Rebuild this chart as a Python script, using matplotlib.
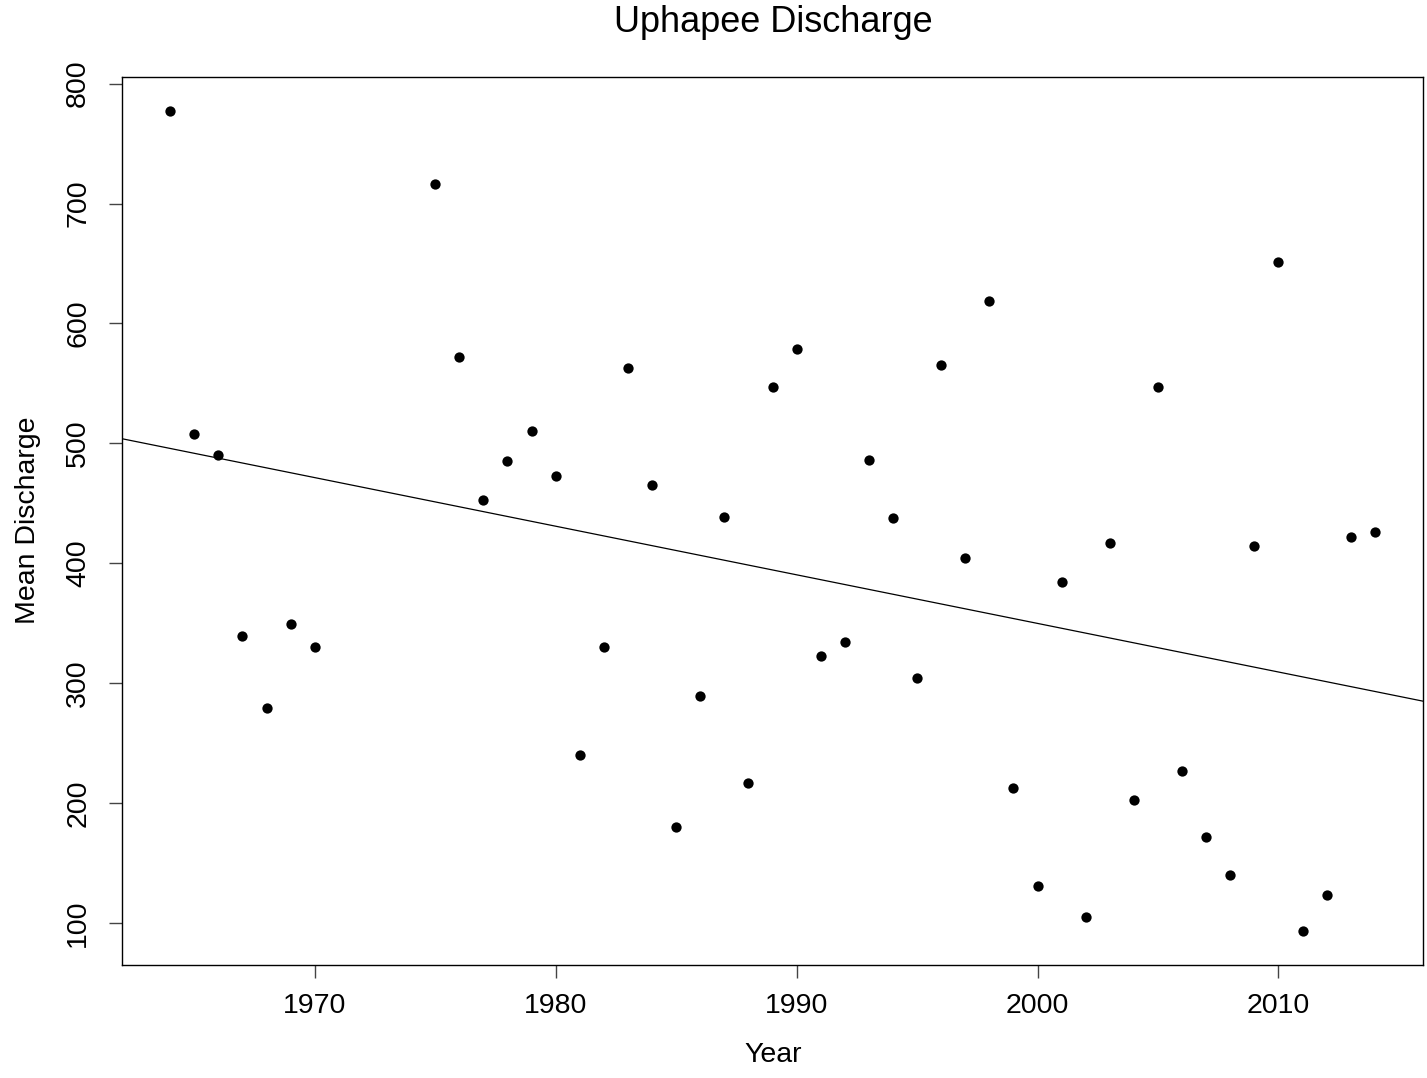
import numpy as np
import matplotlib
matplotlib.use("Agg")
import matplotlib.pyplot as plt

plt.rcParams['font.family'] = ['Liberation Sans', 'DejaVu Sans']

# ----- données -----
years = [1964, 1965, 1966, 1967, 1968, 1969, 1970,
         1975, 1976, 1977, 1978, 1979, 1980, 1981, 1982, 1983, 1984,
         1985, 1986, 1987, 1988, 1989, 1990, 1991, 1992, 1993, 1994,
         1995, 1996, 1997, 1998, 1999, 2000, 2001, 2002, 2003, 2004,
         2005, 2006, 2007, 2008, 2009, 2010, 2011, 2012, 2013, 2014]
discharge = [777, 508, 490, 339, 279, 349, 330,
             716, 572, 453, 485, 510, 473, 240, 330, 563, 465,
             180, 289, 439, 217, 547, 579, 323, 334, 486, 438,
             304, 565, 404, 619, 213, 131, 384, 105, 417, 203,
             547, 227, 172, 140, 414, 651, 93, 123, 422, 426]
xticks = [1970, 1980, 1990, 2000, 2010]
yticks = [100, 200, 300, 400, 500, 600, 700, 800]

W, H = 1427, 1078
fig = plt.figure(figsize=(W / 100, H / 100), dpi=100)
ax = fig.add_axes([122 / W, 1 - 965 / H, (1423 - 122) / W, (965 - 77) / H])

ax.scatter(years, discharge, s=55, color="black", zorder=3, linewidths=0)

# droite de régression
slope, intercept = np.polyfit(years, discharge, 1)
ax.axline((1990, slope * 1990 + intercept), slope=slope, color="black", linewidth=0.9)

ax.set_xlim(1962, 2016)
ax.set_ylim(65, 805.5)
ax.set_xticks(xticks)
ax.set_yticks(yticks)
ax.tick_params(axis="both", length=9.5, width=1.0, color="#444444", labelsize=20.5)
ax.tick_params(axis="x", pad=11)
ax.tick_params(axis="y", pad=12)
for lab in ax.get_yticklabels():
    lab.set_rotation(90)
    lab.set_va("center")
    lab.set_ha("center")
ax.yaxis.set_tick_params(pad=22)
for sp in ax.spines.values():
    sp.set_linewidth(1.0)

fig.text(773 / W, 1 - 22 / H, "Uphapee Discharge", ha="center", va="center", fontsize=26)
fig.text(773 / W, 1 - 1055 / H, "Year", ha="center", va="center", fontsize=20.5)
fig.text(28 / W, 1 - 520 / H, "Mean Discharge", ha="center", va="center", rotation=90, fontsize=20.5)

fig.savefig("out.png", dpi=100)
